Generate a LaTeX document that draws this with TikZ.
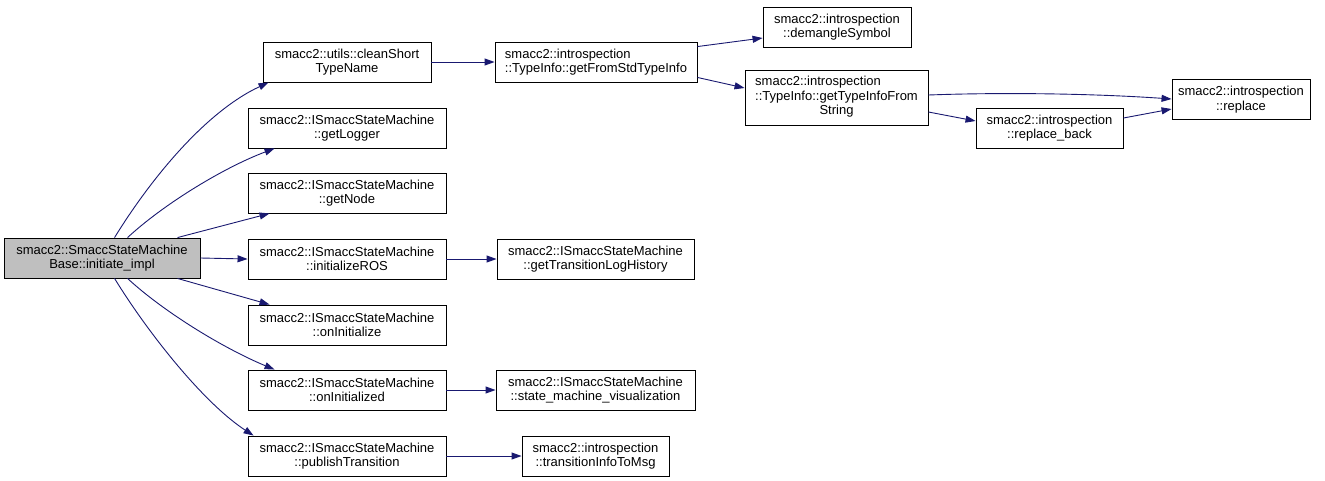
\documentclass[tikz,border=0pt]{standalone}
\usepackage{fontspec}
\setmainfont{Liberation Sans}
\usetikzlibrary{arrows.meta}
\definecolor{edgeblue}{HTML}{191970}
\definecolor{rootgray}{HTML}{BFBFBF}
\tikzset{
  box/.style={draw=black, line width=0.9pt, fill=white, inner sep=0pt, align=center,
    font=\fontsize{13}{14.5}\selectfont, minimum height=40pt},
  rootbox/.style={box, fill=rootgray},
  edge/.style={draw=edgeblue, line width=0.9pt, -{Triangle[length=10pt,width=7pt]}},
}
\begin{document}
\begin{tikzpicture}[x=1pt,y=-1pt]
\useasboundingbox (0,0) rectangle (1325,480);
\node[rootbox, minimum width=196pt] (root) at (102,258) {smacc2::SmaccStateMachine\\Base::initiate\_impl};
\node[box, minimum width=168pt] (clean) at (347,62) {smacc2::utils::cleanShort\\TypeName};
\node[box, minimum width=202pt, align=left] (gfs) at (596,62) {smacc2::introspection\\::TypeInfo::getFromStdTypeInfo};
\node[box, minimum width=148pt] (dem) at (837,27) {smacc2::introspection\\::demangleSymbol};
\node[box, minimum width=183pt, minimum height=55pt] (gtifs) at (836.5,97.5) {\begin{tabular}{@{}l@{}}smacc2::introspection\\::TypeInfo::getTypeInfoFrom\\\multicolumn{1}{@{}c@{}}{String}\end{tabular}};
\node[box, minimum width=147pt] (rb) at (1049.5,128) {smacc2::introspection\\::replace\_back};
\node[box, minimum width=138pt] (rep) at (1241,99.5) {smacc2::introspection\\::replace};
\node[box, minimum width=198pt] (log) at (347,128) {smacc2::ISmaccStateMachine\\::getLogger};
\node[box, minimum width=198pt] (gnode) at (347,193) {smacc2::ISmaccStateMachine\\::getNode};
\node[box, minimum width=198pt] (iros) at (347,259) {smacc2::ISmaccStateMachine\\::initializeROS};
\node[box, minimum width=198pt] (oni) at (347,325) {smacc2::ISmaccStateMachine\\::onInitialize};
\node[box, minimum width=198pt] (onid) at (347,390) {smacc2::ISmaccStateMachine\\::onInitialized};
\node[box, minimum width=198pt] (pub) at (347,456) {smacc2::ISmaccStateMachine\\::publishTransition};
\node[box, minimum width=197pt] (gtlh) at (595.5,259) {smacc2::ISmaccStateMachine\\::getTransitionLogHistory};
\node[box, minimum width=199pt] (smv) at (595.5,390) {smacc2::ISmaccStateMachine\\::state\_machine\_visualization};
\node[box, minimum width=147pt] (t2m) at (595.5,456) {smacc2::introspection\\::transitionInfoToMsg};
% edges from root
\draw[edge] ([xshift=111pt]root.north west) .. controls (150,180) and (205,112) .. ([xshift=6pt]clean.south west);
\draw[edge] ([xshift=124pt]root.north west) .. controls (165,203) and (225,167) .. ([xshift=27pt]log.south west);
\draw[edge] ([xshift=174pt]root.north west) -- ([xshift=22pt]gnode.south west);
\draw[edge] (root.east) -- (iros.west);
\draw[edge] ([xshift=174pt]root.south west) -- ([xshift=22pt]oni.north west);
\draw[edge] ([xshift=124pt]root.south west) .. controls (165,313) and (225,349) .. ([xshift=27pt]onid.north west);
\draw[edge] ([xshift=111pt]root.south west) .. controls (150,336) and (205,404) .. ([xshift=6pt]pub.north west);
% other edges
\draw[edge] (clean.east) -- (gfs.west);
\draw[edge] ([yshift=-5pt]gfs.north east) -- ([yshift=-11pt]dem.west);
\draw[edge] ([yshift=5pt]gfs.south east) -- ([yshift=9.5pt]gtifs.west);
\draw[edge] ([yshift=2.5pt]gtifs.east) .. controls (1010,92) and (1100,94) .. ([yshift=0.5pt]rep.west);
\draw[edge] ([yshift=-14.5pt]gtifs.east) -- ([yshift=7pt]rb.west);
\draw[edge] ([yshift=10pt]rb.east) -- ([yshift=-9.5pt]rep.west);
\draw[edge] (iros.east) -- (gtlh.west);
\draw[edge] (onid.east) -- (smv.west);
\draw[edge] (pub.east) -- (t2m.west);
\end{tikzpicture}
\end{document}
